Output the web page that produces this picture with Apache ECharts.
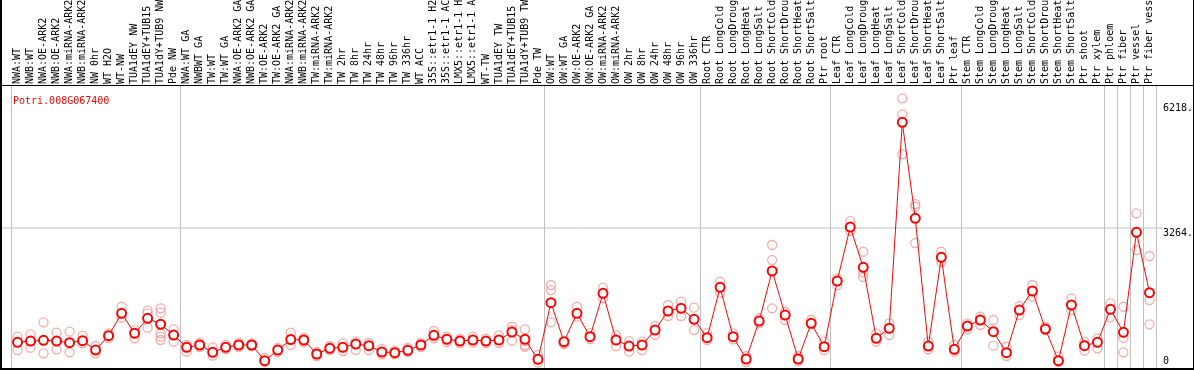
<!DOCTYPE html>
<html>
<head>
<meta charset="utf-8">
<script src="https://cdn.jsdelivr.net/npm/echarts@6/dist/echarts.min.js"></script>
<style>
html, body { margin: 0; padding: 0; background: #fff; }
#chart { width: 1194px; height: 370px; }
</style>
</head>
<body>
<div id="chart"></div>
<script>
const geneName = 'Potri.008G067400'

const categories = [
  'NWA:WT', 'NWB:WT', 'NWA:OE-ARK2', 'NWB:OE-ARK2', 'NWA:miRNA-ARK2', 'NWB:miRNA-ARK2', 'NW 0hr',
  'WT H2O', 'WT-NW', 'TUA1dEY NW', 'TUA1dEY+TUB15', 'TUA1dY+TUB9 NW', 'Pde NW',
  'NWA:WT GA', 'NWBWT GA', 'TW:WT', 'TW:WT GA', 'NWA:OE-ARK2 GA', 'NWB:OE-ARK2 GA', 'TW:OE-ARK2',
  'TW:OE-ARK2 GA', 'NWA:miRNA-ARK2', 'NWB:miRNA-ARK2', 'TW:miRNA-ARK2', 'TW:miRNA-ARK2', 'TW 2hr',
  'TW 8hr', 'TW 24hr', 'TW 48hr', 'TW 96hr', 'TW 336hr', 'WT ACC', '35S::etr1-1 H2O', '35S::etr1-1 ACC',
  'LMX5::etr1-1 H2O', 'LMX5::etr1-1 ACC', 'WT-TW', 'TUA1dEY TW', 'TUA1dEY+TUB15', 'TUA1dY+TUB9 TW', 'Pde TW',
  'OW:WT', 'OW:WT GA', 'OW:OE-ARK2', 'OW:OE-ARK2 GA', 'OW:miRNA-ARK2', 'OW:miRNA-ARK2',
  'OW 2hr', 'OW 8hr', 'OW 24hr', 'OW 48hr', 'OW 96hr', 'OW 336hr',
  'Root CTR', 'Root LongCold', 'Root LongDrought', 'Root LongHeat', 'Root LongSalt',
  'Root ShortCold', 'Root ShortDrought', 'Root ShortHeat', 'Root ShortSalt', 'Ptr root',
  'Leaf CTR', 'Leaf LongCold', 'Leaf LongDrought', 'Leaf LongHeat', 'Leaf LongSalt',
  'Leaf ShortCold', 'Leaf ShortDrought', 'Leaf ShortHeat', 'Leaf ShortSalt', 'Ptr leaf',
  'Stem CTR', 'Stem LongCold', 'Stem LongDrought', 'Stem LongHeat', 'Stem LongSalt',
  'Stem ShortCold', 'Stem ShortDrought', 'Stem ShortHeat', 'Stem ShortSalt', 'Ptr shoot', 'Ptr xylem',
  'Ptr phloem', 'Ptr fiber', 'Ptr vessel', 'Ptr fiber vessel'
]

// index of the first category of each sample group (last = end)
const groupStarts = [0, 13, 41, 53, 63, 73, 84, 85, 86, 87, 88]

const means = [
  560, 591, 608, 591, 551, 598, 378, 717, 1246, 773, 1128, 986, 733,
  442, 497, 324, 442, 497, 497, 125, 378, 627, 615, 284, 419, 442, 520, 480, 331, 315, 371, 497, 726, 631, 591, 615, 591, 615, 804, 631, 158,
  1497, 575, 1246, 693, 1719, 615, 473, 497, 851, 1301, 1365, 1104,
  669, 1861, 693, 166, 1064, 2247, 1206, 166, 1010, 456,
  2010, 3287, 2334, 655, 892, 5763, 3493, 473, 2571, 395,
  946, 1088, 811, 315, 1324, 1774, 875, 125, 1443, 480, 560,
  1341, 797, 3162, 1734
]

const replicates = [
  [693, 378], [750, 433], [1034, 300], [788, 395], [811, 324], [717, 537], [473, 300], [773, 662],
  [1402, 1142], [851, 655], [1308, 1246, 906], [1365, 1261, 773, 693, 615], [868, 575],
  [338, 497], [544, 449], [442, 244], [497, 402], [544, 449], [532, 473], [189, 95], [426, 331],
  [788, 497], [662, 568], [331, 237], [473, 378], [537, 355], [575, 378], [544, 378], [402, 277],
  [355, 284], [426, 331], [544, 449], [828, 662], [693, 568], [639, 544], [693, 551], [650, 544],
  [726, 544], [929, 851, 598], [868, 591, 497, 456], [260, 78],
  [1916, 1797, 1034], [537, 520], [1402, 1166], [780, 639], [1852, 1601], [733, 473], [591, 338],
  [575, 378], [946, 733], [1443, 1183], [1521, 1183], [1379, 851],
  [780, 615], [1994, 1734], [773, 631], [237, 95], [1128, 1010], [2862, 2507, 1365], [1284, 1088],
  [237, 118], [1088, 993], [575, 378],
  [2074, 1916], [3429, 3193], [2703, 2207, 2105], [773, 575], [1010, 733], [6331, 5953, 5007],
  [3831, 3767, 2909], [575, 395], [2703, 2460], [497, 338],
  [1010, 868], [1166, 970], [1088, 480], [456, 237], [1419, 1206], [1916, 1639], [929, 851],
  [220, 95], [1601, 1324], [575, 362], [655, 419],
  [1483, 1152], [1402, 669, 324], [3611, 2743], [2602, 1561, 986]
]

const yTicks = [0, 3264, 6218]
const yTickLabels = ['0', '3264.', '6218.']

const repPoints = []
replicates.forEach((vals, i) => {
  vals.forEach(v => repPoints.push([i, v]))
})

const isGroupEdge = (index) => groupStarts.indexOf(index) >= 0
const font = 'DejaVu Sans Mono'

const chart = echarts.init(document.getElementById('chart'))

chart.setOption({
  animation: false,
  title: {
    text: geneName,
    left: 8,
    top: 91,
    textStyle: { color: '#ff0000', fontSize: 10, fontWeight: 'normal', fontFamily: font }
  },
  grid: { left: 11, right: 38, top: 86, bottom: 2, containLabel: false, outerBoundsMode: 'none' },
  xAxis: {
    type: 'category',
    position: 'top',
    data: categories,
    axisLine: { show: false },
    axisTick: {
      show: true,
      length: 86,
      interval: isGroupEdge,
      lineStyle: { color: '#c0c0c0', width: 1 }
    },
    splitLine: {
      show: true,
      interval: isGroupEdge,
      lineStyle: { color: '#c0c0c0', width: 1 }
    },
    axisLabel: {
      interval: 0,
      rotate: 90,
      margin: 2,
      align: 'left',
      verticalAlign: 'middle',
      color: '#000',
      fontSize: 10,
      fontFamily: font
    }
  },
  yAxis: [
    {
      type: 'value',
      position: 'right',
      min: -47,
      max: 6623,
      axisLine: { show: false },
      axisTick: { show: false },
      splitLine: { show: false },
      axisLabel: {
        customValues: yTicks.slice(1),
        formatter: v => yTickLabels[yTicks.indexOf(v)],
        verticalAlign: 'top',
        align: 'left',
        margin: 7,
        color: '#000',
        fontSize: 10,
        fontFamily: font
      }
    },
    {
      type: 'value',
      position: 'right',
      min: -47,
      max: 6623,
      axisLine: { show: false },
      axisTick: { show: false },
      splitLine: { show: false },
      axisLabel: {
        customValues: yTicks.slice(0, 1),
        formatter: v => yTickLabels[yTicks.indexOf(v)],
        verticalAlign: 'bottom',
        align: 'left',
        margin: 7,
        color: '#000',
        fontSize: 10,
        fontFamily: font
      }
    }
  ],
  series: [
    {
      name: 'replicates',
      type: 'scatter',
      data: repPoints,
      symbol: 'circle',
      symbolSize: 9,
      itemStyle: { color: 'rgba(0,0,0,0)', borderColor: '#f09898', borderWidth: 1.3 },
      z: 2
    },
    {
      name: 'mean',
      type: 'line',
      data: means,
      symbol: 'emptyCircle',
      symbolSize: 9,
      lineStyle: { color: '#ff0000', width: 1 },
      itemStyle: { color: '#ff0000', borderWidth: 1.8 },
      z: 3
    }
  ]
})

// frame and the reference line at the middle tick
const yMid = chart.convertToPixel({ yAxisIndex: 0 }, yTicks[1])
chart.setOption({
  graphic: [
    { type: 'line', shape: { x1: 1, y1: yMid, x2: 1162, y2: yMid }, style: { stroke: '#c0c0c0', lineWidth: 1 }, z: 0 },
    { type: 'line', shape: { x1: 0, y1: 85.5, x2: 1194, y2: 85.5 }, style: { stroke: '#000', lineWidth: 1 }, z: 10 },
    { type: 'line', shape: { x1: 1, y1: 0, x2: 1, y2: 370 }, style: { stroke: '#000', lineWidth: 2 }, z: 10 },
    { type: 'line', shape: { x1: 1193.5, y1: 0, x2: 1193.5, y2: 370 }, style: { stroke: '#000', lineWidth: 1 }, z: 10 },
    { type: 'line', shape: { x1: 0, y1: 369, x2: 1194, y2: 369 }, style: { stroke: '#000', lineWidth: 2 }, z: 10 }
  ]
})

window.addEventListener('resize', () => chart.resize())
</script>
</body>
</html>
